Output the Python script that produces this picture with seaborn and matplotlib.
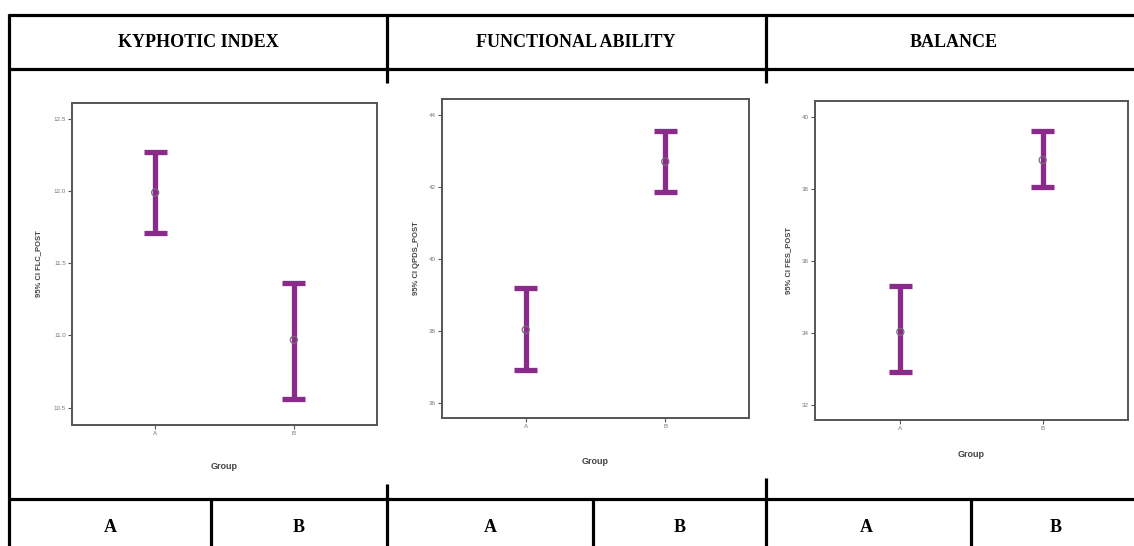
import numpy as np
import pandas as pd
import matplotlib
matplotlib.use("Agg")
import matplotlib.pyplot as plt
from matplotlib.lines import Line2D
import seaborn as sns

# ---------------- data ----------------
groups = ["A", "B"]
headers = ["KYPHOTIC INDEX", "FUNCTIONAL ABILITY", "BALANCE"]
ylabels = ["95% CI FLC_POST", "95% CI QPDS_POST", "95% CI FES_POST"]

kyphotic_mean = [11.99, 10.97]
kyphotic_low = [11.71, 10.56]
kyphotic_high = [12.27, 11.36]

functional_mean = [38.03, 42.70]
functional_low = [36.90, 41.86]
functional_high = [39.20, 43.56]

balance_mean = [34.03, 38.80]
balance_low = [32.90, 38.05]
balance_high = [35.30, 39.60]

kyphotic_ticks = [10.5, 11.0, 11.5, 12.0, 12.5]
functional_ticks = [36, 38, 40, 42, 44]
balance_ticks = [32, 34, 36, 38, 40]

# ---------------- style ----------------
sns.set_style("white")
plt.rcParams["font.family"] = ["Liberation Sans", "DejaVu Sans"]

W, H = 1134, 546
fig = plt.figure(figsize=(W / 100, H / 100), dpi=100)

PURPLE = "#8a2b8c"
FRAME = "#555555"


def px(x, y):
    return x / W, 1 - y / H


panels = [
    dict(rect=(72, 103, 377, 425), mean=kyphotic_mean, low=kyphotic_low, high=kyphotic_high,
         ticks=kyphotic_ticks, fmt="{:.1f}", ylim=(10.38, 12.61), ylab_x=-30, xlab_y=-37),
    dict(rect=(442, 99, 749, 418), mean=functional_mean, low=functional_low, high=functional_high,
         ticks=functional_ticks, fmt="{:.0f}", ylim=(35.58, 44.44), ylab_x=-22, xlab_y=-39),
    dict(rect=(815, 101, 1128, 420), mean=balance_mean, low=balance_low, high=balance_high,
         ticks=balance_ticks, fmt="{:.0f}", ylim=(31.58, 40.44), ylab_x=-23, xlab_y=-30),
]

for i, p in enumerate(panels):
    x0, y0, x1, y1 = p["rect"]
    ax = fig.add_axes([x0 / W, 1 - y1 / H, (x1 - x0) / W, (y1 - y0) / H])
    rows = []
    for g, lo, m, hi in zip(groups, p["low"], p["mean"], p["high"]):
        for v in (lo, m, hi):
            rows.append({"Group": g, "value": v})
    df = pd.DataFrame(rows)
    sns.pointplot(data=df, x="Group", y="value", order=groups, estimator="median",
                  errorbar=("pi", 100), capsize=0.165, color=PURPLE, linestyle="none",
                  marker="o", markersize=0,
                  err_kws={"linewidth": 3.8, "solid_capstyle": "butt"}, ax=ax)
    mdf = pd.DataFrame({"Group": groups, "mean": p["mean"]})
    sns.scatterplot(data=mdf, x="Group", y="mean", ax=ax, s=26, facecolor="none",
                    edgecolor="#7a6a7a", linewidth=0.9, zorder=5)
    ax.set_xlim(-0.6, 1.6)
    ax.set_ylim(*p["ylim"])
    ax.set_yticks(p["ticks"])
    ax.set_yticklabels([p["fmt"].format(t) for t in p["ticks"]])
    ax.set_xticks([0, 1])
    ax.set_xticklabels(groups)
    ax.tick_params(axis="both", which="both", direction="out", length=3, width=0.8,
                   colors=FRAME, labelsize=4.5, labelcolor="#777777", pad=1.5,
                   left=True, bottom=True)
    for s in ax.spines.values():
        s.set_color(FRAME)
        s.set_linewidth(1.4)
    ax.set_xlabel("Group", fontsize=6.5, color="#444444", fontweight="bold")
    ax.set_ylabel(ylabels[i], fontsize=5.5, color="#444444", fontweight="bold")
    ax.xaxis.set_label_coords(0.5, p["xlab_y"] / (y1 - y0))
    ax.yaxis.set_label_coords(p["ylab_x"] / (x1 - x0), 0.5)

# ---------------- table grid ----------------
LW = 2.3


def hline(y, xa, xb):
    (a, yy), (b, _) = px(xa, y), px(xb, y)
    fig.add_artist(Line2D([a, b], [yy, yy], color="black", linewidth=LW,
                          transform=fig.transFigure, solid_capstyle="butt"))


def vline(x, ya, yb):
    (xx, a), (_, b) = px(x, ya), px(x, yb)
    fig.add_artist(Line2D([xx, xx], [a, b], color="black", linewidth=LW,
                          transform=fig.transFigure, solid_capstyle="butt"))


hline(15, 8, 1134)
hline(69, 8, 1134)
hline(499, 8, 1134)
vline(9, 14, 546)
vline(387, 14, 83)
vline(766, 14, 83)
vline(387, 484, 546)
vline(766, 478, 546)
vline(211, 499, 546)
vline(593, 499, 546)
vline(971, 499, 546)

header_x = [198, 576, 954]
for hx, t in zip(header_x, headers):
    fig.text(*px(hx, 43), t, ha="center", va="center", fontsize=13, color="black",
             fontweight="bold", family=["Liberation Serif", "DejaVu Serif"])

bottom_x = [110, 299, 490, 680, 866, 1056]
for j, bx in enumerate(bottom_x):
    fig.text(*px(bx, 527), groups[j % 2], ha="center", va="center", fontsize=13,
             color="black", fontweight="bold", family=["Liberation Serif", "DejaVu Serif"])

fig.savefig("out.png", dpi=100, facecolor="white")
